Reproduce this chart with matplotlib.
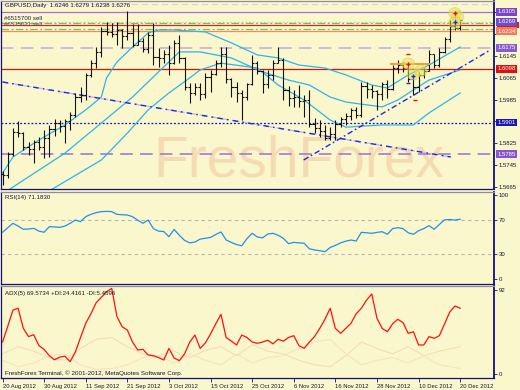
import matplotlib
matplotlib.use('Agg')
import matplotlib.pyplot as plt
import numpy as np
from matplotlib.patches import Ellipse, Rectangle

plt.rcParams['font.family'] = ['Liberation Sans', 'DejaVu Sans']

# ---------------- data ----------------
opens = [1.5712,1.5708,1.5785,1.5866,1.5862,1.5812,1.5805,1.5828,1.5812,1.5845,
         1.5878,1.5898,1.5888,1.5905,1.5930,1.5995,1.6000,1.6075,1.6118,1.6160,
         1.6235,1.6232,1.6225,1.6240,1.6218,1.6228,1.6185,1.6200,1.6168,1.6222,
         1.6142,1.6135,1.6150,1.6120,1.6190,1.6135,1.6030,1.6010,1.6030,1.6005,
         1.6068,1.6080,1.6120,1.6150,1.6060,1.6030,1.6010,1.5995,1.6040,1.6120,
         1.6090,1.6040,1.6075,1.6120,1.6130,1.6020,1.5990,1.5995,1.5980,1.5985,
         1.5895,1.5880,1.5870,1.5845,1.5860,1.5895,1.5912,1.5925,1.5945,1.5930,
         1.6035,1.6025,1.6015,1.6005,1.6040,1.6025,1.6100,1.6110,1.6100,1.6060,
         1.6030,1.6075,1.6090,1.6150,1.6110,1.6160,1.6205,1.6255,1.6246]
highs = [1.5722,1.5792,1.5880,1.5905,1.5866,1.5828,1.5838,1.5848,1.5872,1.5892,
         1.5912,1.5910,1.5912,1.5940,1.6010,1.6030,1.6082,1.6130,1.6178,1.6250,
         1.6268,1.6264,1.6268,1.6242,1.6308,1.6262,1.6262,1.6210,1.6232,1.6265,
         1.6174,1.6166,1.6184,1.6203,1.6222,1.6140,1.6045,1.6045,1.6045,1.6082,
         1.6093,1.6129,1.6177,1.6177,1.6065,1.6049,1.6020,1.6045,1.6148,1.6125,
         1.6092,1.6093,1.6129,1.6177,1.6137,1.6035,1.6020,1.6038,1.6001,1.6020,
         1.5917,1.5910,1.5892,1.5884,1.5910,1.5921,1.5936,1.5954,1.5958,1.6049,
         1.6049,1.6038,1.6020,1.6049,1.6056,1.6111,1.6129,1.6122,1.6122,1.6075,
         1.6086,1.6100,1.6166,1.6152,1.6173,1.6214,1.6276,1.6308,1.6279]
lows = [1.5672,1.5700,1.5778,1.5848,1.5800,1.5782,1.5753,1.5800,1.5770,1.5775,
        1.5850,1.5868,1.5826,1.5873,1.5920,1.5976,1.5983,1.6068,1.6100,1.6140,
        1.6220,1.6212,1.6185,1.6172,1.6203,1.6176,1.6184,1.6158,1.6155,1.6112,
        1.6104,1.6118,1.6075,1.6115,1.6118,1.6020,1.5972,1.6000,1.5983,1.5990,
        1.6012,1.6075,1.6104,1.6045,1.5994,1.5976,1.5910,1.5983,1.6038,1.6080,
        1.6009,1.6027,1.6056,1.6118,1.5983,1.5960,1.5958,1.5958,1.5921,1.5884,
        1.5862,1.5848,1.5837,1.5837,1.5837,1.5884,1.5892,1.5910,1.5917,1.5921,
        1.5990,1.5990,1.5947,1.5983,1.5990,1.6020,1.6082,1.6086,1.6049,1.6001,
        1.6012,1.6064,1.6088,1.6100,1.6105,1.6155,1.6195,1.6239,1.6238]
closes = [1.5708,1.5785,1.5866,1.5862,1.5812,1.5805,1.5828,1.5812,1.5845,1.5878,
          1.5898,1.5888,1.5905,1.5930,1.5995,1.6000,1.6075,1.6118,1.6160,1.6235,
          1.6232,1.6225,1.6240,1.6218,1.6228,1.6185,1.6200,1.6168,1.6222,1.6142,
          1.6135,1.6150,1.6120,1.6190,1.6135,1.6030,1.6010,1.6030,1.6005,1.6068,
          1.6080,1.6120,1.6150,1.6060,1.6030,1.6010,1.5995,1.6040,1.6120,1.6090,
          1.6040,1.6075,1.6120,1.6130,1.6020,1.5990,1.5995,1.5980,1.5985,1.5895,
          1.5880,1.5870,1.5845,1.5860,1.5895,1.5912,1.5925,1.5945,1.5930,1.6035,
          1.6025,1.6015,1.6005,1.6040,1.6025,1.6100,1.6110,1.6100,1.6060,1.6030,
          1.6075,1.6090,1.6150,1.6110,1.6160,1.6205,1.6255,1.6246,1.6276]

# moving-average style lines (bar index, price)
ma1_x = [0, 2, 7, 12, 16, 19, 20, 22, 25, 28, 30, 33, 39, 44, 49, 53, 57, 62, 66, 71, 74, 78, 82, 88]
ma1_y = [1.5716,1.5775,1.5837,1.5892,1.5947,1.5994,1.6064,1.6122,1.6177,1.6228,1.6239,1.6239,
         1.6232,1.6192,1.6148,1.6137,1.6111,1.6100,1.6075,1.6038,1.6027,1.6075,1.6111,1.6177]
ma2_x = [0, 7, 12, 19, 25, 30, 34, 38, 44, 50, 55, 59, 63, 66, 69, 73, 76, 79, 82, 88]
ma2_y = [1.5640,1.5727,1.5789,1.5899,1.5994,1.6086,1.6159,1.6159,1.6137,1.6086,1.6056,1.6038,
         1.5994,1.5976,1.5968,1.5958,1.5983,1.6020,1.6056,1.6093]
ma3_x = [8, 19, 24, 28, 32, 36, 38, 42, 49, 53, 58, 63, 66, 73, 79, 82, 88]
ma3_y = [1.5640,1.5764,1.5862,1.5947,1.6009,1.6064,1.6093,1.6118,1.6100,1.6038,1.5983,1.5910,
         1.5884,1.5892,1.5892,1.5936,1.6009]

# trend lines (bar index, price)
tl_down = ([0, 86.2], [1.6049, 1.5775])
tl_up = ([57.9, 93.8], [1.5764, 1.6166])

rsi = [55.6,61,66.3,63,59.2,59.5,60.3,57,55.6,62.3,62,61.5,63,66.3,70.2,68.3,74.2,77,79,80.2,
       80.5,80.2,77,76.5,76.2,74.2,70,66.3,70.2,60,57,56.5,50.4,59,52,46,43,44,47.5,48.5,
       49.5,53,56,46.5,43.5,41,39.5,48,54.4,50,49,53.5,54.4,52,48.4,42,43.6,43,42.5,36,
       34.5,33.7,32.5,37.5,40,43,45,46.4,45.2,55.6,55,54.4,55.5,56.3,53.2,60,61.1,60,55,53.2,
       57.5,60,63.5,59.2,65,70.5,70.8,70.2,71.2]

adx = [35,52,70,72,50,41,43,31,27,20,15.5,18.5,19.5,13.5,24,40,55.5,66,78,84,
       90,93.8,63,51.8,48.2,35,26.3,27,20.8,20,18,15.3,28,17.5,14.6,22,35,42.7,28.1,34,
       44,55,65.4,40,36,31.8,42.7,40,35,33.6,35,37,33,38,36,40,42,31,28.1,35,
       41,50,60,72,50,44.5,50,55.5,66,72,81,87.6,61,50,46.3,55,59.9,56.3,44.5,46.3,
       31.8,31.8,40.9,39.1,42,55,68,74.5,72]

di_x = [0,3,6,9,12,15,18,21,24,27,30,33,36,39,42,45,48,51,54,57,60,63,66,69,72,75,78,81,84,88]
di_plus = [22,30,25,18,15,28,38,40,30,22,20,25,18,26,30,20,32,25,22,15,10,8,20,35,28,22,30,20,25,30]
di_minus = [15,8,12,20,22,10,5,6,10,18,20,12,22,15,10,22,12,18,20,28,35,38,22,10,15,18,12,20,10,6]

date_pos = [0, 8, 16, 24, 32, 40, 48, 56, 64, 72, 80, 88]
date_lbl = ['20 Aug 2012', '30 Aug 2012', '11 Sep 2012', '21 Sep 2012', '3 Oct 2012',
            '15 Oct 2012', '25 Oct 2012', '6 Nov 2012', '16 Nov 2012', '28 Nov 2012',
            '10 Dec 2012', '20 Dec 2012']
price_ticks = [1.6305, 1.6225, 1.6145, 1.6065, 1.5985, 1.5905, 1.5825, 1.5745, 1.5665]
price_tick_lbl = ['', '', '1.6145', '1.6065', '1.5985', '', '1.5825', '1.5745', '1.5665']

# horizontal levels: value, label, line colour, style, tag colour
levels = [
    (1.6305, '1.6305', '#A070D8', '-', '#7A44C8'),
    (1.6269, '1.6269', '#C8C8C8', ':', '#6F4CCB'),
    (1.6234, '1.6234', '#F08A6A', '-', '#F47C5C'),
    (1.6175, '1.6175', '#CDB6DA', '--', '#8A5AD0'),
    (1.6098, '1.6098', '#D81010', '-', '#E01010'),
    (1.5901, '1.5901', '#1414C0', ':', '#1818B0'),
    (1.5785, '1.5785', '#A584D6', '--', '#8855CC'),
]
red_level = 1.6257
green_levels = [1.6266, 1.6243]

# ---------------- drawing ----------------
W, H = 520, 390
BG = '#FBF7CC'
NAVY = '#10107A'
TXT = '#14143C'
fig = plt.figure(figsize=(5.2, 3.9), dpi=100)
fig.patch.set_facecolor(BG)


def axpx(l, t, r, b):
    a = fig.add_axes([l / W, 1 - b / H, (r - l) / W, (b - t) / H])
    a.set_facecolor(BG)
    for s in ['left', 'bottom', 'top']:
        a.spines[s].set_color(NAVY)
        a.spines[s].set_linewidth(0.9)
    a.spines['top'].set_color('#8C8C9C')
    a.spines['right'].set_color(NAVY)
    a.spines['right'].set_linewidth(1.3)
    a.set_xlim(-0.29, 94.5)
    a.yaxis.tick_right()
    a.tick_params(axis='y', direction='out', length=2, width=0.6, colors=NAVY,
                  labelsize=4.3, pad=1.5, labelcolor=TXT)
    return a


ax = axpx(1, 1, 494, 189)
ax_rsi = axpx(1, 192, 494, 284)
ax_adx = axpx(1, 286, 494, 378)

# main panel
ax.set_ylim(1.5658, 1.6345)
ax.set_yticks(price_ticks)
ax.set_yticklabels(price_tick_lbl)
ax.set_xticks([])

ax.text(153 / W, 1 - 177 / H, 'FreshForex', transform=fig.transFigure, fontsize=41,
        color='#F2C9A2', alpha=0.6, ha='left', va='baseline', zorder=0.5,
        family=['Liberation Sans', 'DejaVu Sans'])

ax.axhline(1.6334, color='#E3CCDC', lw=0.8, ls=(0, (6, 3)), zorder=1)
ax.axhline(red_level, color='#E02020', lw=0.9, zorder=1)
for v, lab, lc, ls, tc in levels:
    if ls == '--':
        ax.axhline(v, color=lc, lw=1.3, ls=(0, (7, 4)), zorder=1)
    elif ls == ':':
        ax.axhline(v, color=lc, lw=0.9, ls=(0, (1.5, 1.5)), zorder=1)
    else:
        ax.axhline(v, color=lc, lw=0.9, zorder=1)
for v in green_levels:
    ax.axhline(v, color='#7CC050', lw=0.9, ls=(0, (6, 2, 1.5, 2)), zorder=1.1)

# red price tag mostly hidden behind its neighbours (drawn as a plain box)
ax.add_patch(Rectangle((1.0 + 3 / 493, red_level - 0.0012), 22 / 493, 0.0024,
                       transform=ax.get_yaxis_transform(), fc='#E01818', ec='none',
                       clip_on=False, zorder=4))
for v, lab, lc, ls, tc in levels:
    ax.annotate(lab, xy=(1, v), xycoords=('axes fraction', 'data'), xytext=(2.2, 0),
                textcoords='offset points', ha='left', va='center', fontsize=4.3,
                color='white', annotation_clip=False, zorder=5,
                bbox=dict(boxstyle='square,pad=0.25', fc=tc, ec='none'))

# moving averages
for xs, ys in [(ma1_x, ma1_y), (ma2_x, ma2_y), (ma3_x, ma3_y)]:
    ax.plot(xs, ys, color='#2CB4EE', lw=0.9, zorder=2)

# trend lines
ax.plot(*tl_down, color='#C9B8E6', lw=1.0, ls=(0, (5, 3)), zorder=2)
ax.plot(*tl_down, color='#1A2ADC', lw=1.0, ls=(0, (4, 3, 1.2, 3)), zorder=2.1)
ax.plot(*tl_up, color='#1A2ADC', lw=1.0, ls=(0, (4, 2, 1.2, 2)), zorder=2.1)

# OHLC bars
xb = np.arange(len(opens))
ax.vlines(xb, lows, highs, color='#111111', lw=0.8, zorder=3)
ax.hlines(opens, xb - 0.42, xb, color='#111111', lw=0.8, zorder=3)
ax.hlines(closes, xb, xb + 0.42, color='#111111', lw=0.8, zorder=3)

# trade markers
for (cx, cy) in [(78, 1.6116), (79, 1.6078), (80.4, 1.6090), (87, 1.6300), (87.5, 1.6288), (87, 1.6266)]:
    ax.add_patch(Ellipse((cx, cy), 2.4, 0.0042, fc='#E6DC5A', ec='#D8CC40', lw=0.6,
                         alpha=0.55, zorder=4))
ax.plot([74.7, 82], [1.6115, 1.6115], color='#EBA028', lw=1.4, zorder=3.5)
ax.plot([78, 87], [1.6116, 1.6300], ls='none', marker='+', color='#E01010', ms=3.5, mew=1, zorder=5)
ax.plot([79, 87], [1.6070, 1.6270], ls='none', marker='+', color='#1030E0', ms=3.5, mew=1, zorder=5)
ax.plot([78, 79.3], [1.6150, 1.5985], ls='none', marker='_', color='#E01010', ms=3, mew=1, zorder=5)
ax.plot([78], [1.6045], ls='none', marker='_', color='#2030D0', ms=3, mew=1, zorder=5)

fig.text(5 / W, 1 - 6 / H, 'GBPUSD,Daily  1.6246 1.6279 1.6238 1.6276', fontsize=4.4,
         color=TXT, ha='left', va='center')
fig.text(4 / W, 1 - 18 / H, '#6515700 sell', fontsize=4.4, color='#202050', ha='left', va='center')
fig.text(4 / W, 1 - 24 / H, '#6535021 sell', fontsize=4.4, color='#505070', ha='left', va='center')

# RSI panel
ax_rsi.set_ylim(-6, 103.6)
ax_rsi.set_yticks([100, 70, 30, 0])
ax_rsi.set_yticklabels(['100', '70', '30', '0'])
ax_rsi.set_xticks([])
for lv in [70, 30]:
    ax_rsi.axhline(lv, color='#B4B4B4', lw=0.8, ls=(0, (3, 3)), zorder=1)
ax_rsi.plot(np.arange(len(rsi)), rsi, color='#2090F0', lw=0.9, zorder=3)
fig.text(5 / W, 1 - 197 / H, 'RSI(14) 71.1830', fontsize=4.4, color=TXT, ha='left', va='center')

# ADX panel
ax_adx.set_ylim(-4.4, 96.4)
ax_adx.set_yticks([92, 0])
ax_adx.set_yticklabels(['92', '0'])
ax_adx.plot(di_x, di_plus, color='#F4DDB6', lw=0.8, zorder=2)
ax_adx.plot(di_x, di_minus, color='#F6E2C4', lw=0.8, zorder=2)
ax_adx.plot(np.arange(len(adx)), adx, color='#FF1010', lw=0.9, zorder=3)
ax_adx.set_xticks(date_pos)
ax_adx.set_xticklabels(date_lbl)
ax_adx.tick_params(axis='x', direction='out', length=3, width=0.6, colors=NAVY,
                   labelsize=4.2, pad=1.2, labelcolor=TXT)
for t in ax_adx.get_xticklabels():
    t.set_ha('left')
fig.text(5 / W, 1 - 293 / H, 'ADX(5) 69.5734 +DI:24.4161 -DI:5.4596', fontsize=4.4,
         color=TXT, ha='left', va='center')
fig.text(5 / W, 1 - 373 / H, 'FreshForex Terminal, \u00a9 2001-2012, MetaQuotes Software Corp.',
         fontsize=4.5, color=TXT, ha='left', va='center')

fig.savefig('out.png', dpi=100, facecolor=BG)
